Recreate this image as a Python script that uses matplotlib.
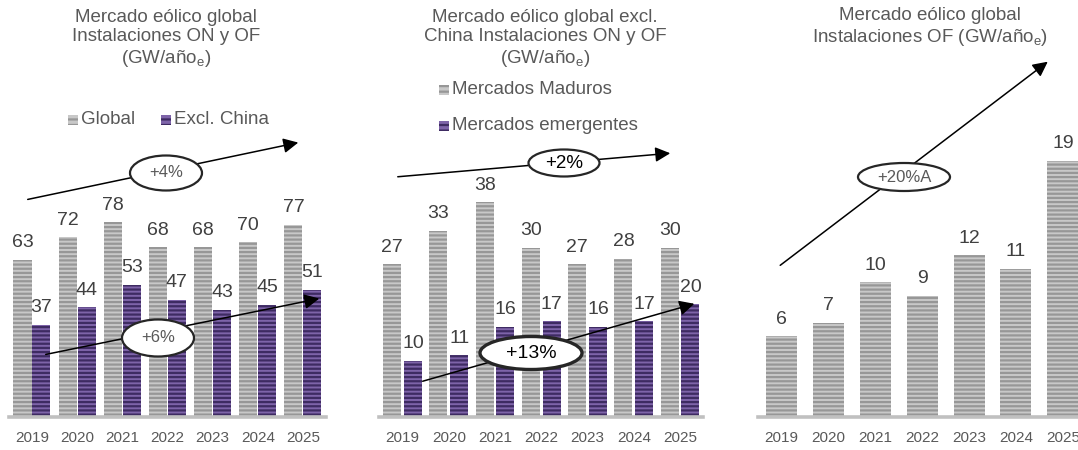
import numpy as np
import matplotlib
matplotlib.use("Agg")
import matplotlib.pyplot as plt
from matplotlib.patches import Ellipse, Rectangle, FancyArrowPatch

plt.rcParams['font.family'] = ['Liberation Sans', 'DejaVu Sans']
plt.rcParams['mathtext.fontset'] = 'custom'
plt.rcParams['mathtext.rm'] = 'Liberation Sans'
plt.rcParams['hatch.linewidth'] = 1.6

years = ['2019', '2020', '2021', '2022', '2023', '2024', '2025']
global_mkt = [63, 72, 78, 68, 68, 70, 77]
excl_china = [37, 44, 53, 47, 43, 45, 51]
maduros = [27, 33, 38, 30, 27, 28, 30]
emergentes = [10, 11, 16, 17, 16, 17, 20]
offshore = [6, 7, 10, 9, 12, 11, 19]

W, H = 1078, 450
GREY_FACE, GREY_STRIPE = '#c8c8c8', '#979797'
PURP_FACE, PURP_STRIPE = '#7e64a9', '#3e2b62'
TXT = '#595959'
VAL = '#404040'

fig = plt.figure(figsize=(W / 100, H / 100), dpi=100)


def fx(x):
    return x / W


def fy(y):
    return 1 - y / H


def add_panel(left, right, base, px_per_unit):
    # left/right/base in pixels from top-left
    ax = fig.add_axes([fx(left), fy(base), (right - left) / W, base / H])
    ax.set_xlim(-0.5, 6.5)
    ax.set_ylim(0, base / px_per_unit)
    ax.patch.set_visible(False)
    for s in ['top', 'right', 'left']:
        ax.spines[s].set_visible(False)
    ax.spines['bottom'].set_color('#c0c0c0')
    ax.spines['bottom'].set_linewidth(2.6)
    ax.set_yticks([])
    ax.set_xticks(np.arange(len(years)))
    ax.set_xticklabels(years, fontsize=11, color=TXT)
    ax.tick_params(axis='x', length=0, pad=10)
    return ax


def bars(ax, pos, vals, width, face, stripe):
    b = ax.bar(pos, vals, width, color=face, edgecolor=stripe, hatch='----', linewidth=0)
    for x, v in zip(pos, vals):
        ax.annotate(str(v), (x, v), xytext=(0, 6), textcoords='offset points',
                    ha='center', va='bottom', fontsize=14, color=VAL)
    return b


def trend(x0, y0, x1, y1, label, ex, ey, ew, eh, fs=12, color=TXT, elw=1.6):
    arr = FancyArrowPatch((fx(x0), fy(y0)), (fx(x1), fy(y1)), transform=fig.transFigure,
                          arrowstyle='-|>,head_length=9,head_width=4.5', color='black',
                          lw=1.1, mutation_scale=1, zorder=5)
    fig.add_artist(arr)
    ell = Ellipse((fx(ex), fy(ey)), ew / W, eh / H, transform=fig.transFigure,
                  facecolor='white', edgecolor='#262626', lw=elw, zorder=6)
    fig.add_artist(ell)
    fig.text(fx(ex), fy(ey), label, ha='center', va='center', fontsize=fs,
             color=color, zorder=7)


def legend_item(x, y, face, stripe, label):
    sq = Rectangle((fx(x), fy(y + 5)), 10 / W, 10 / H, transform=fig.transFigure,
                   facecolor=face, edgecolor=stripe, hatch='---', linewidth=0)
    fig.add_artist(sq)
    fig.text(fx(x + 13), fy(y), label, ha='left', va='center', fontsize=13.5, color=TXT)


idx = np.arange(len(years))

# Panel 1: global vs excluding China
ax1 = add_panel(9.4, 325.5, 417, 2.5)
bars(ax1, idx - 0.21, global_mkt, 0.4, GREY_FACE, GREY_STRIPE)
bars(ax1, idx + 0.21, excl_china, 0.4, PURP_FACE, PURP_STRIPE)
fig.text(fx(166), fy(39), 'Mercado eólico global\nInstalaciones ON y OF\n(GW/año$_\\mathrm{e}$)',
         ha='center', va='center', fontsize=13.5, color=TXT, linespacing=1.2)
legend_item(68, 120, GREY_FACE, GREY_STRIPE, 'Global')
legend_item(161, 120, PURP_FACE, PURP_STRIPE, 'Excl. China')
trend(25, 200, 301, 142, '+4%', 166, 173, 72, 35)
trend(43, 355, 322, 298, '+6%', 158, 338, 72, 37)

# Panel 2: mature vs emerging markets (excl. China)
ax2 = add_panel(379.4, 703.2, 417, 5.65)
bars(ax2, idx - 0.225, maduros, 0.39, GREY_FACE, GREY_STRIPE)
bars(ax2, idx + 0.225, emergentes, 0.39, PURP_FACE, PURP_STRIPE)
fig.text(fx(545), fy(39), 'Mercado eólico global excl.\nChina Instalaciones ON y OF\n(GW/año$_\\mathrm{e}$)',
         ha='center', va='center', fontsize=13.5, color=TXT, linespacing=1.2)
legend_item(439, 90, GREY_FACE, GREY_STRIPE, 'Mercados Maduros')
legend_item(439, 126, PURP_FACE, PURP_STRIPE, 'Mercados emergentes')
trend(395, 177, 673, 153, '+2%', 564, 163, 71, 27, fs=13.5, color='black')
trend(420, 382, 697, 303, '+13%', 531, 353, 102, 33, fs=14, color='black', elw=2.4)

# Panel 3: global offshore
ax3 = add_panel(758, 1086.3, 417, 13.5)
bars(ax3, idx, offshore, 0.66, GREY_FACE, GREY_STRIPE)
fig.text(fx(930), fy(28), 'Mercado eólico global\nInstalaciones OF (GW/año$_\\mathrm{e}$)',
         ha='center', va='center', fontsize=13.5, color=TXT, linespacing=1.2)
trend(778, 267, 1050, 60, '+20%A', 904, 177, 92, 28)

fig.savefig('out.png', dpi=100)
